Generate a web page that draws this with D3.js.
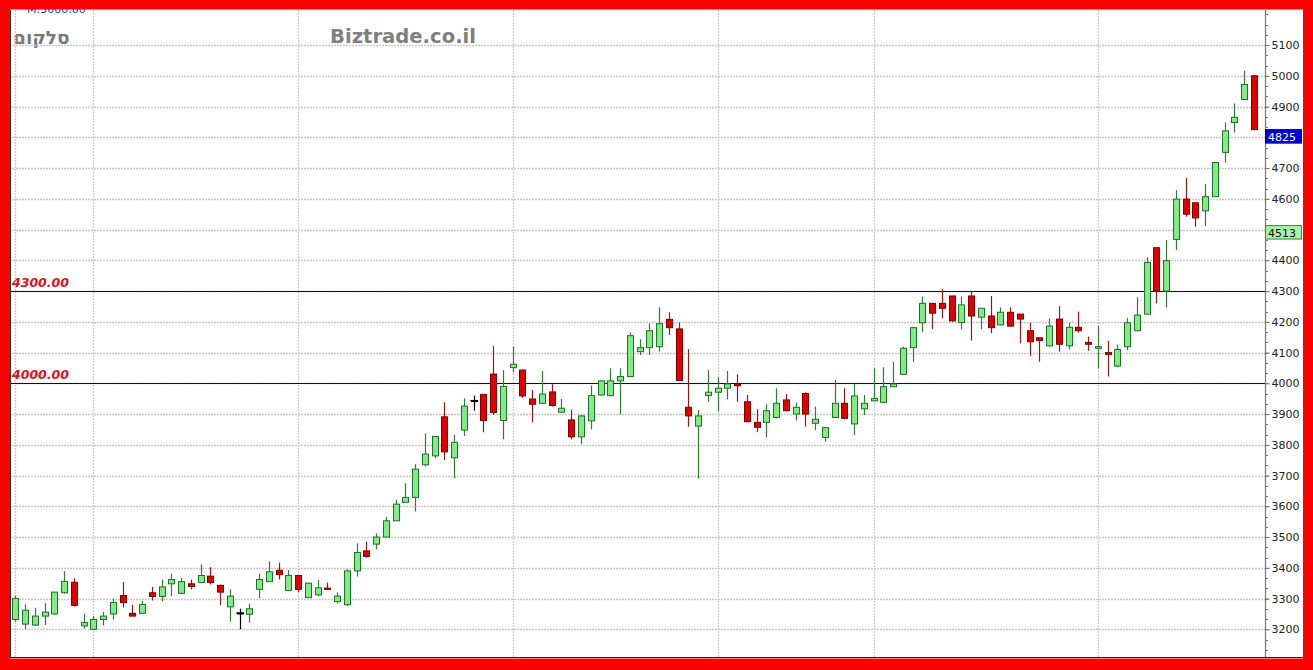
<!DOCTYPE html>
<html><head><meta charset="utf-8">
<script src="https://cdn.jsdelivr.net/npm/d3@7"></script>
<style>html,body{margin:0;padding:0;background:#fff;overflow:hidden}</style>
</head><body>
<svg id="c" width="1313" height="670"></svg>
<script>
// ---- data ----
const openP  = [3232,3217,3214,3243,3250,3319,3353,3211,3200,3232,3250,3310,3252,3252,3319,3307,3348,3317,3348,3352,3373,3343,3273,3253,3249,3330,3355,3392,3326,3375,3303,3312,3334,3290,3280,3390,3455,3477,3500,3553,3613,3629,3735,3764,3891,3758,3848,3944,3964,4030,3879,4051,4043,3949,3935,3972,3906,3881,3826,3878,3962,3960,4008,4022,4103,4116,4119,4208,4177,3922,3861,3960,3971,3984,3998,3940,3873,3873,3889,3946,3900,3967,3870,3824,3889,3935,3868,3917,3943,3938,3989,4029,4116,4197,4260,4260,4284,4198,4284,4215,4219,4190,4231,4225,4171,4148,4122,4209,4122,4182,4133,4114,4100,4056,4119,4171,4225,4441,4300,4468,4599,4587,4561,4607,4751,4848,4923,5000];
const highP  = [3310,3281,3270,3285,3322,3389,3366,3251,3243,3256,3300,3354,3280,3292,3338,3362,3381,3367,3362,3411,3402,3345,3330,3267,3283,3381,3421,3417,3393,3376,3352,3360,3352,3320,3395,3480,3485,3512,3565,3621,3675,3737,3837,3828,3938,3832,3951,3960,3965,4121,4043,4119,4045,3978,4040,3997,3949,3915,3897,3993,4009,4049,4049,4166,4143,4195,4247,4231,4198,4111,3913,4043,4020,4040,4029,3962,3916,3932,3984,3965,3938,3971,3924,3856,4011,3984,3998,3962,4049,4052,4070,4119,4182,4282,4261,4306,4285,4282,4298,4244,4284,4247,4247,4226,4197,4149,4211,4251,4197,4233,4152,4187,4138,4125,4213,4280,4410,4441,4466,4628,4668,4587,4648,4719,4848,4910,5016,5001];
const lowP   = [3225,3200,3211,3214,3247,3316,3274,3203,3198,3213,3232,3271,3243,3250,3294,3291,3308,3315,3330,3350,3346,3278,3225,3200,3222,3302,3355,3362,3325,3321,3302,3308,3329,3284,3276,3372,3433,3460,3499,3552,3612,3583,3731,3756,3751,3691,3829,3911,3841,3897,3818,4036,3953,3873,3934,3924,3905,3818,3802,3850,3960,3958,3899,4020,4092,4092,4103,4157,4008,3859,3690,3940,3908,3948,3940,3874,3841,3824,3886,3908,3879,3859,3848,3810,3889,3883,3832,3897,3942,3937,3988,4028,4070,4166,4177,4211,4200,4176,4139,4176,4163,4189,4184,4130,4089,4070,4120,4103,4110,4165,4106,4049,4022,4052,4108,4171,4225,4260,4247,4433,4542,4509,4512,4606,4718,4816,4922,4824];
const closeP = [3300,3262,3243,3256,3321,3356,3278,3222,3232,3243,3287,3287,3243,3281,3307,3338,3362,3355,3339,3375,3352,3321,3308,3253,3267,3362,3387,3378,3375,3330,3350,3335,3330,3308,3390,3450,3437,3500,3553,3607,3629,3721,3770,3827,3777,3808,3926,3944,3879,3905,3990,4062,3959,3932,3965,3928,3919,3826,3894,3960,4008,4008,4022,4155,4116,4171,4194,4181,4009,3894,3894,3971,3984,3998,3992,3875,3857,3911,3935,3911,3922,3900,3883,3856,3935,3886,3959,3935,3951,3989,3998,4114,4181,4260,4228,4244,4203,4255,4219,4244,4181,4231,4186,4209,4135,4139,4186,4127,4182,4171,4127,4119,4094,4110,4197,4222,4393,4300,4399,4599,4550,4538,4607,4718,4821,4865,4972,4825];
const yTicks = [3200,3300,3400,3500,3600,3700,3800,3900,4000,4100,4200,4300,4400,4500,4600,4700,4800,4900,5000,5100];
const periodStarts = [0,8,29,51,72,88,111];   // candle index where vertical grid lines sit
const levelLines = [4300, 4000];
const lastPrice = 4825;
const markerPrice = 4513;

// ---- layout ----
const svg = d3.select("#c");
const L = 10, R = 1265, T = 10, B = 657;
const n = closeP.length;
const x = d3.scaleLinear().domain([0, n - 1]).range([15.3, 1254]);
const y = d3.scaleLinear().domain([3110, 5214]).range([B, T]);

svg.append("rect").attr("width",1313).attr("height",670).attr("fill","#fff");

// watermark texts
svg.append("text").attr("x",27).attr("y",13).attr("font-family","DejaVu Sans, sans-serif")
  .attr("font-size",11).attr("fill","#3030c0").text("M:5000.00");
svg.append("text").attr("x",13).attr("y",44).attr("font-family","DejaVu Sans, sans-serif")
  .attr("font-weight","bold").attr("font-size",18.5).attr("fill","#7a7a7a").text("סלקום");
svg.append("text").attr("x",330).attr("y",43).attr("font-family","DejaVu Sans, sans-serif")
  .attr("font-weight","bold").attr("font-size",19.6).attr("fill","#7f7f7f").text("Biztrade.co.il");

// horizontal grid
svg.append("g").selectAll("line").data(yTicks).join("line")
  .attr("x1",L).attr("x2",R).attr("y1",d=>Math.round(y(d))+0.5).attr("y2",d=>Math.round(y(d))+0.5)
  .attr("stroke","#c8c8c8").attr("stroke-width",1.4).attr("stroke-dasharray","2,1");
// vertical grid
svg.append("g").selectAll("line").data(periodStarts).join("line")
  .attr("x1",d=>Math.round(x(d))+0.5).attr("x2",d=>Math.round(x(d))+0.5).attr("y1",T).attr("y2",B)
  .attr("stroke","#cccccc").attr("stroke-width",1.3).attr("stroke-dasharray","2,1");

// level lines
svg.append("g").selectAll("line").data(levelLines).join("line")
  .attr("x1",L).attr("x2",R).attr("y1",d=>Math.round(y(d))+0.5).attr("y2",d=>Math.round(y(d))+0.5)
  .attr("stroke","#111").attr("stroke-width",1);
svg.append("g").selectAll("text").data(levelLines).join("text")
  .attr("x",12).attr("y",d=>y(d)-4).attr("font-family","DejaVu Sans, sans-serif")
  .attr("font-weight","bold").attr("font-style","italic").attr("font-size",12.5)
  .attr("fill","#e0101c").text(d=>d.toFixed(2));

// candles
const data = d3.range(n).map(i=>({i,o:openP[i],h:highP[i],l:lowP[i],c:closeP[i]}));
const col = d => d.c > d.o ? {fill:"#80ec84",stroke:"#23702a",wick:"#2e7d32"}
              : d.c < d.o ? {fill:"#e00000",stroke:"#800000",wick:"#8a1c1c"}
              : {fill:"#000",stroke:"#000",wick:"#000"};
const g = svg.append("g");
g.selectAll("line.w").data(data).join("line").attr("class","w")
  .attr("x1",d=>Math.round(x(d.i))+0.5).attr("x2",d=>Math.round(x(d.i))+0.5)
  .attr("y1",d=>y(d.h)).attr("y2",d=>y(d.l))
  .attr("stroke",d=>col(d).wick).attr("stroke-width",1.2);
g.selectAll("rect").data(data).join("rect")
  .attr("x",d=>Math.round(x(d.i))-2.5).attr("width",6)
  .attr("y",d=>y(Math.max(d.o,d.c)))
  .attr("height",d=>Math.max(1,y(Math.min(d.o,d.c))-y(Math.max(d.o,d.c))))
  .attr("fill",d=>col(d).fill).attr("stroke",d=>col(d).stroke).attr("stroke-width",1);
// doji crosses
g.selectAll("line.dj").data(data.filter(d=>d.o===d.c)).join("line").attr("class","dj")
  .attr("x1",d=>x(d.i)-3.5).attr("x2",d=>x(d.i)+4.5).attr("y1",d=>y(d.o)).attr("y2",d=>y(d.o))
  .attr("stroke","#000").attr("stroke-width",1.2);

// right axis (labels hidden where the price markers cover them, as in the source)
const covered = v => [lastPrice, markerPrice].some(m => Math.abs(y(v) - (y(m) + 7)) < 12);
const axis = d3.axisRight(y).tickValues(yTicks).tickSize(4).tickPadding(2)
  .tickFormat(d => covered(d) ? "" : d3.format("d")(d));
const ag = svg.append("g").attr("transform",`translate(${R+0.5},0)`).call(axis);
ag.select(".domain").remove();
ag.selectAll("line").attr("stroke","#666");
ag.selectAll("text").attr("font-family","DejaVu Sans, sans-serif").attr("font-size",11).attr("fill","#222");
// minor ticks
const minorVals = [];
for (let v = 3100; v <= 5214; v += 100/3) if (v >= 3110) minorVals.push(v);
svg.append("g").selectAll("line").data(minorVals).join("line")
  .attr("x1",R).attr("x2",R+3).attr("y1",d=>Math.round(y(d))+0.5).attr("y2",d=>Math.round(y(d))+0.5)
  .attr("stroke","#777").attr("stroke-width",1);
svg.append("line").attr("x1",R+0.5).attr("x2",R+0.5).attr("y1",T).attr("y2",B)
  .attr("stroke","#777").attr("stroke-width",1.2);

// price markers
const mk = [{v:lastPrice, fill:"#0000dd", stroke:"#0000aa", txt:"#fff"},
            {v:markerPrice, fill:"#a8f2a8", stroke:"#3a8a3a", txt:"#111"}];
const mg = svg.append("g").selectAll("g").data(mk).join("g");
mg.append("rect").attr("x",R+0.5).attr("y",d=>y(d.v)).attr("width",36).attr("height",13.5)
  .attr("fill",d=>d.fill).attr("stroke",d=>d.stroke).attr("stroke-width",1);
mg.append("text").attr("x",R+3).attr("y",d=>y(d.v)+11).attr("font-family","DejaVu Sans, sans-serif")
  .attr("font-size",11).attr("fill",d=>d.txt).text(d=>d.v);

// frame lines
svg.append("line").attr("x1",L).attr("x2",1303).attr("y1",B+0.5).attr("y2",B+0.5).attr("stroke","#222").attr("stroke-width",1.2);
svg.append("line").attr("x1",L+0.5).attr("x2",L+0.5).attr("y1",T).attr("y2",B).attr("stroke","#333").attr("stroke-width",1);

// red outer border
const red = "#ff0000";
svg.append("rect").attr("x",0).attr("y",0).attr("width",1313).attr("height",9.5).attr("fill",red);
svg.append("rect").attr("x",0).attr("y",0).attr("width",10).attr("height",670).attr("fill",red);
svg.append("rect").attr("x",1303).attr("y",0).attr("width",10).attr("height",670).attr("fill",red);
svg.append("rect").attr("x",0).attr("y",658.5).attr("width",1313).attr("height",12).attr("fill",red);
</script>
</body></html>
